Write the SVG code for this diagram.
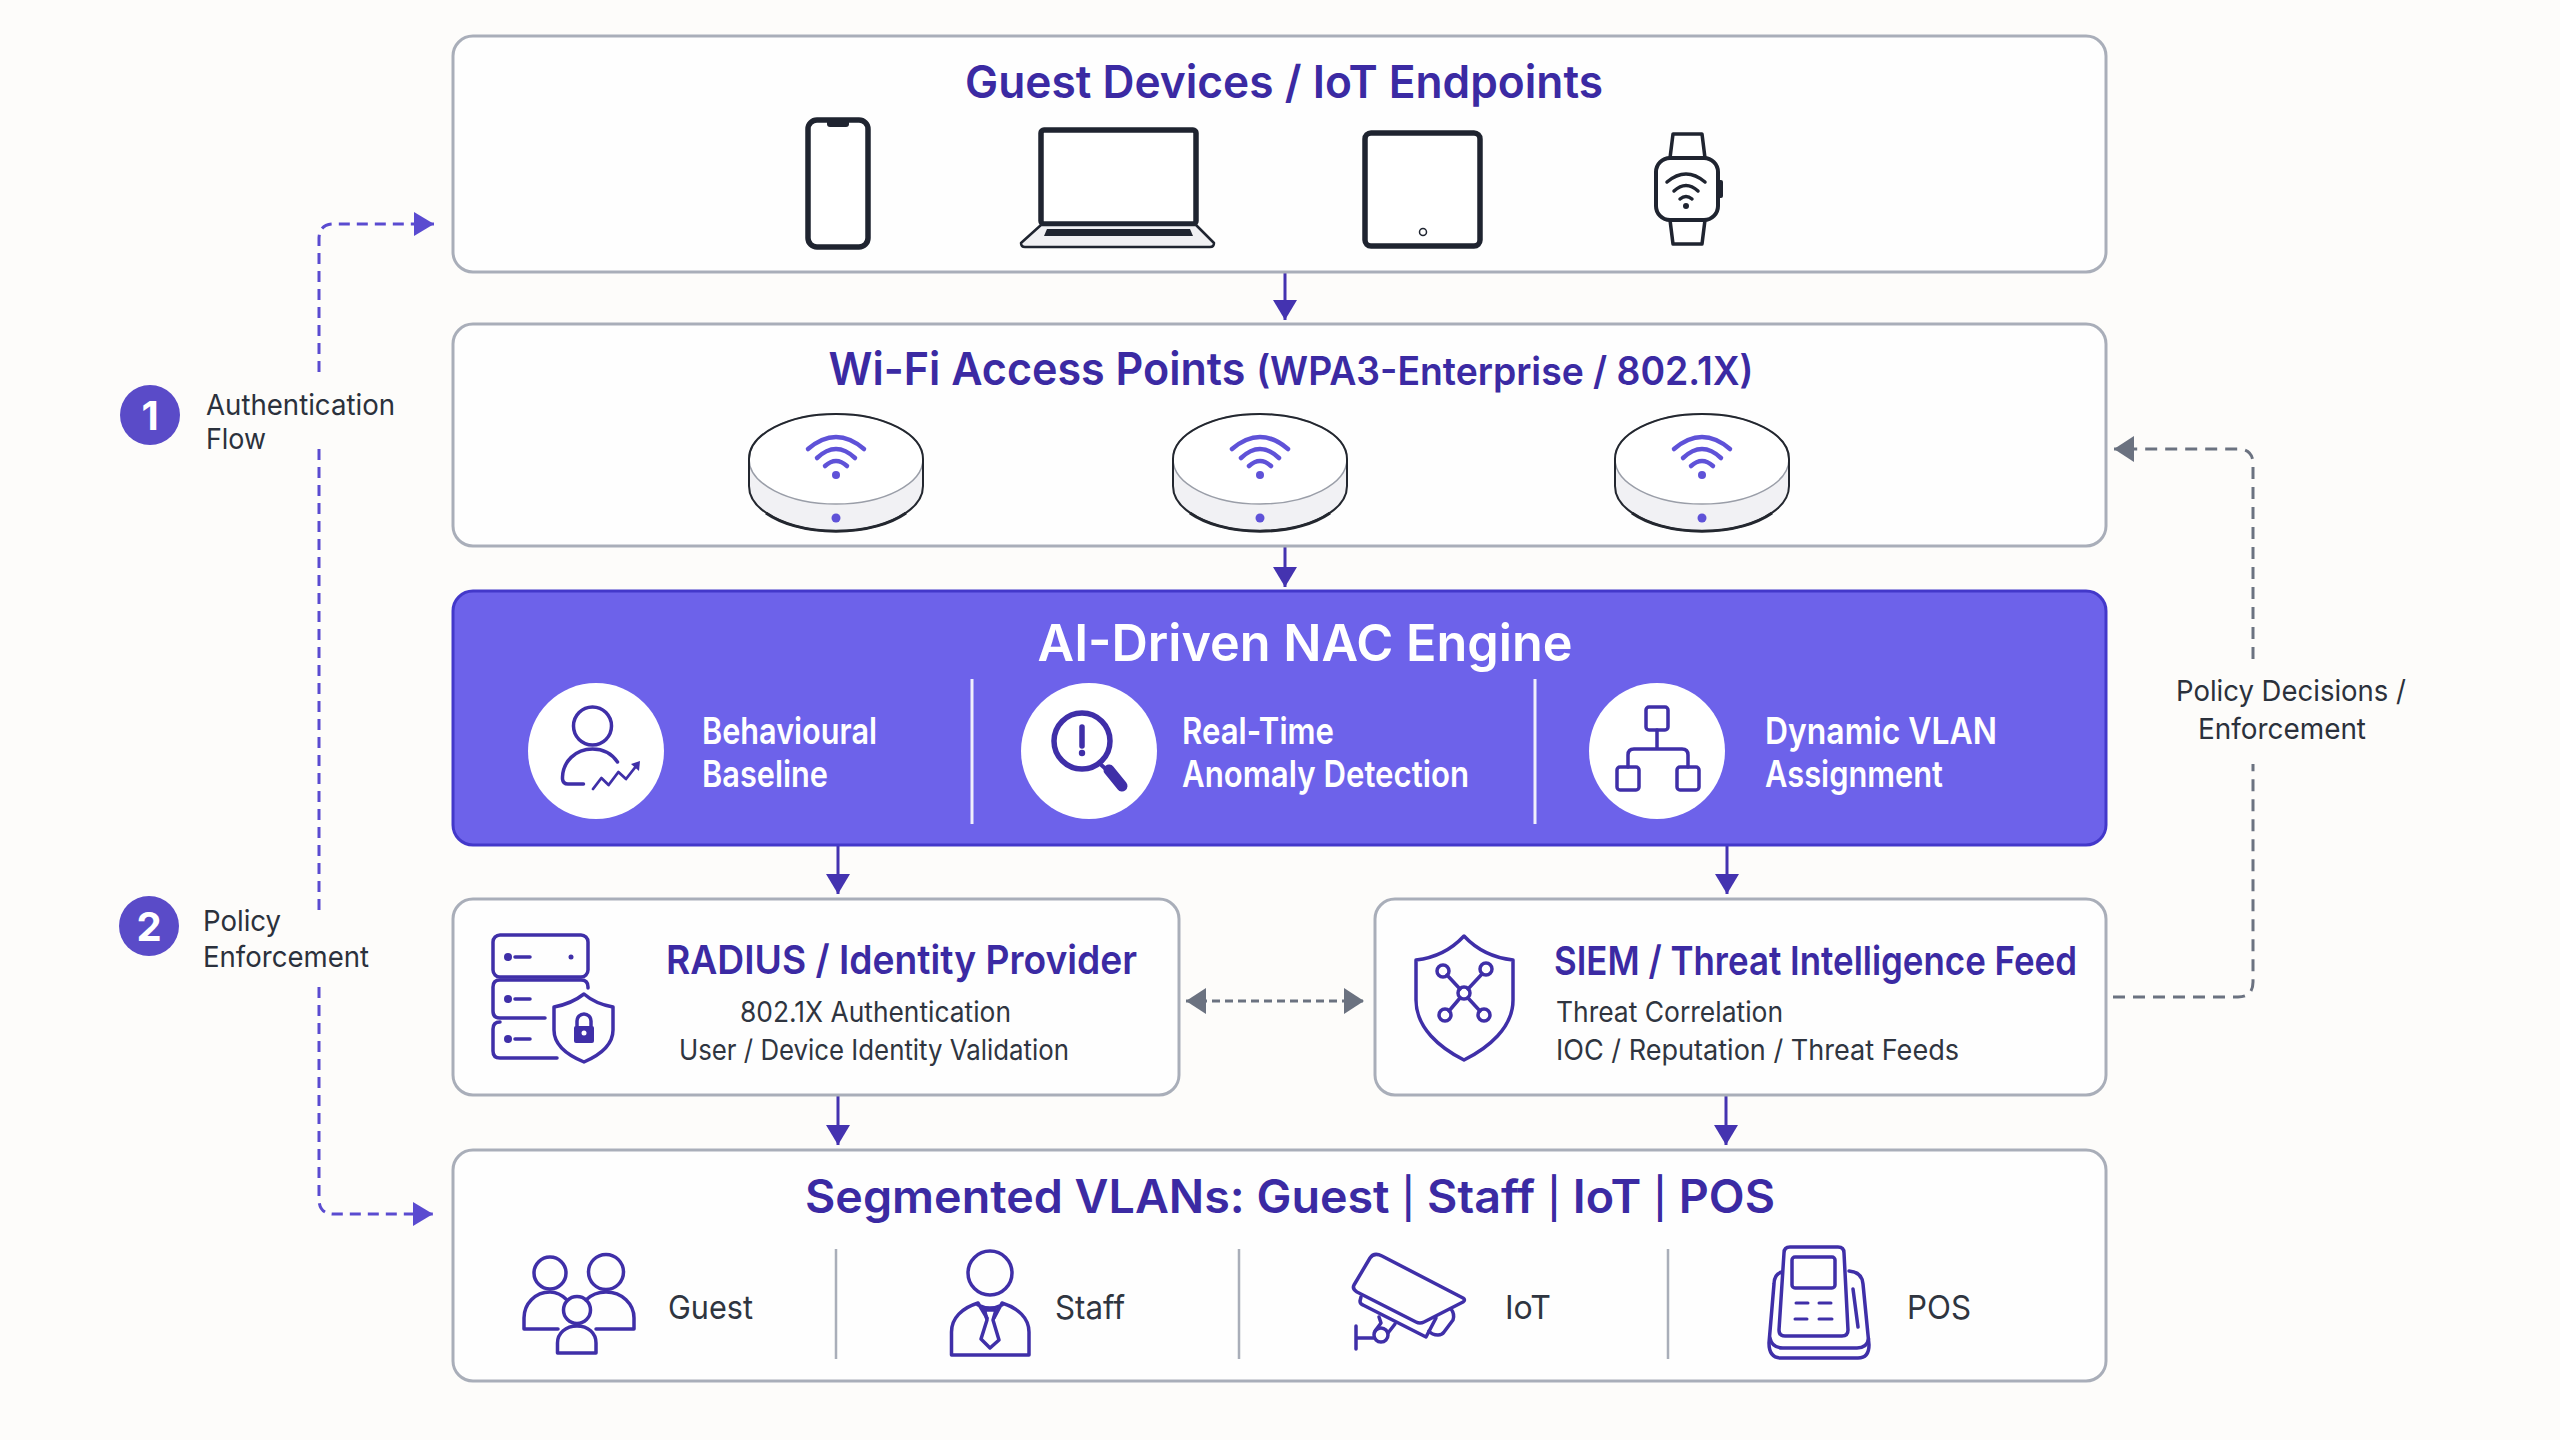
<svg xmlns="http://www.w3.org/2000/svg" width="2560" height="1440" viewBox="0 0 2560 1440">
<style>
text{font-family:Inter,"Noto Sans","Liberation Sans",sans-serif}
.box{fill:#fefefe;stroke:#a9aeb9;stroke-width:3}
.t{fill:#3b2aa3;font-weight:600;text-anchor:middle}
.h{fill:#3b2aa3;font-size:40px;font-weight:600}
.s{fill:#2f3540;font-size:28px}
.e{fill:#fff;font-size:37px;font-weight:600}
.l{fill:#2b313c;font-size:29px}
.v{fill:#2f3540;font-size:33px}
.ic{fill:none;stroke:#3f2fa8;stroke-width:3.5;stroke-linecap:round;stroke-linejoin:round}
.dk{fill:#fff;stroke:#1f2430;stroke-width:5.5;stroke-linejoin:round}
.wf{fill:none;stroke:#5f52d8;stroke-width:4.5;stroke-linecap:round}
.ar{fill:none;stroke:#4433b0;stroke-width:3}
.dp{fill:none;stroke:#5a4bd0;stroke-width:3;stroke-dasharray:11 7}
.dg{fill:none;stroke:#6b7280;stroke-width:3;stroke-dasharray:12 8}
</style>
<defs>
<marker id="ma" markerUnits="userSpaceOnUse" markerWidth="22" markerHeight="26" refX="20" refY="12" orient="auto"><path d="M0 0L20 12L0 24Z" fill="#4433b0"/></marker>
<marker id="mp" markerUnits="userSpaceOnUse" markerWidth="22" markerHeight="26" refX="20" refY="12" orient="auto"><path d="M0 0L20 12L0 24Z" fill="#5a4bd0"/></marker>
<marker id="mg" markerUnits="userSpaceOnUse" markerWidth="22" markerHeight="28" refX="20" refY="13" orient="auto"><path d="M0 0L20 13L0 26Z" fill="#6b7280"/></marker>
<marker id="mgs" markerUnits="userSpaceOnUse" markerWidth="22" markerHeight="28" refX="20" refY="13" orient="auto-start-reverse"><path d="M0 0L20 13L0 26Z" fill="#6b7280"/></marker>
<g id="ap">
<path d="M-87 2V27A87 45 0 0 0 87 27V2Z" fill="#f1f1f4"/>
<ellipse cx="0" cy="0" rx="87" ry="45" fill="#fff" stroke="#9a9ea8" stroke-width="1.5"/>
<path d="M-87 0V27A87 45 0 0 0 87 27V0" fill="none" stroke="#23272f" stroke-width="2"/>
<path d="M-70 54A87 45 0 0 0 70 54" fill="none" stroke="#23272f" stroke-width="3"/>
<path d="M-87 0A87 45 0 0 1 87 0" fill="none" stroke="#23272f" stroke-width="2"/>
<path class="wf" d="M-28-10Q0-34 28-10M-19-1Q0-19 19-1M-11 7Q0-3 11 7"/>
<circle cx="0" cy="16" r="4" fill="#5f52d8"/>
<circle cx="0" cy="59" r="4.5" fill="#5f52d8"/>
</g>
</defs>
<rect width="2560" height="1440" fill="#fdfcfa"/>

<g id="connectors">
<path class="ar" marker-end="url(#ma)" d="M1285 273V320"/>
<path class="ar" marker-end="url(#ma)" d="M1285 546V587"/>
<path class="ar" marker-end="url(#ma)" d="M838 845V894"/>
<path class="ar" marker-end="url(#ma)" d="M1727 845V894"/>
<path class="ar" marker-end="url(#ma)" d="M838 1095V1145"/>
<path class="ar" marker-end="url(#ma)" d="M1726 1095V1145"/>
<path class="dg" style="stroke-dasharray:8 5" marker-start="url(#mgs)" marker-end="url(#mg)" d="M1186 1001H1364"/>
<path class="dg" d="M2113 997H2238Q2253 997 2253 982V764"/>
<path class="dg" marker-end="url(#mg)" d="M2253 659V464Q2253 449 2238 449H2114"/>
<path class="dp" d="M319 372V239Q319 224 334 224H434" marker-end="url(#mp)"/>
<path class="dp" d="M319 449V913"/>
<path class="dp" d="M319 987V1199Q319 1214 334 1214H433" marker-end="url(#mp)"/>
</g>

<g id="legend-1">
<circle cx="150" cy="415" r="30" fill="#5a4bc8"/>
<text x="150" y="430" fill="#fff" font-size="40" font-weight="700" text-anchor="middle">1</text>
<text class="l" x="206" y="415" textLength="189" lengthAdjust="spacingAndGlyphs">Authentication</text>
<text class="l" x="206" y="449" textLength="60" lengthAdjust="spacingAndGlyphs">Flow</text>
</g>
<g id="legend-2">
<circle cx="149" cy="926" r="30" fill="#5a4bc8"/>
<text x="149" y="941" fill="#fff" font-size="40" font-weight="700" text-anchor="middle">2</text>
<text class="l" x="203" y="931" textLength="78" lengthAdjust="spacingAndGlyphs">Policy</text>
<text class="l" x="203" y="967" textLength="166" lengthAdjust="spacingAndGlyphs">Enforcement</text>
</g>
<g id="label-policy">
<text class="l" x="2176" y="701" textLength="230" lengthAdjust="spacingAndGlyphs">Policy Decisions /</text>
<text class="l" x="2198" y="739" textLength="168" lengthAdjust="spacingAndGlyphs">Enforcement</text>
</g>

<g id="devices">
<rect class="box" x="453" y="36" width="1653" height="236" rx="20"/>
<text class="t" x="1284" y="98" font-size="45" textLength="638" lengthAdjust="spacingAndGlyphs">Guest Devices / IoT Endpoints</text>
<rect class="dk" x="808" y="120" width="60" height="127" rx="9"/>
<path d="M827 120h22v4a3 3 0 0 1-3 3h-16a3 3 0 0 1-3-3z" fill="#1f2430"/>
<rect class="dk" x="1041" y="130" width="155" height="94" rx="3"/>
<path d="M1041 225H1196L1214 243Q1214 247 1210 247H1025Q1021 247 1021 243Z" fill="#f0f0f3" stroke="#1f2430" stroke-width="2.5" stroke-linejoin="round"/>
<path d="M1047 229H1190L1193 236H1044Z" fill="#1f2430"/>
<rect class="dk" x="1365" y="133" width="115" height="113" rx="6"/>
<circle cx="1423" cy="232" r="3.5" fill="#fff" stroke="#1f2430" stroke-width="1.5"/>
<path fill="#fff" stroke="#1f2430" stroke-width="3.5" stroke-linejoin="round" d="M1670 158L1673 134H1702L1705 158ZM1670 220L1673 244H1702L1705 220Z"/>
<rect x="1656" y="158" width="62" height="62" rx="14" fill="#fff" stroke="#1f2430" stroke-width="4"/>
<rect x="1718" y="180" width="5" height="18" rx="2" fill="#1f2430"/>
<path d="M1667 182Q1686 166 1705 182M1674 191Q1686 180 1698 191M1680 199Q1686 194 1692 199" fill="none" stroke="#1f2430" stroke-width="3.5" stroke-linecap="round"/>
<circle cx="1686" cy="206" r="3" fill="#1f2430"/>
</g>

<g id="access-points">
<rect class="box" x="453" y="324" width="1653" height="222" rx="20"/>
<text class="t" x="1291" y="385" font-size="45" textLength="925" lengthAdjust="spacingAndGlyphs">Wi-Fi Access Points <tspan font-size="39">(WPA3-Enterprise / 802.1X)</tspan></text>
<use href="#ap" x="836" y="459"/>
<use href="#ap" x="1260" y="459"/>
<use href="#ap" x="1702" y="459"/>
</g>

<g id="nac-engine">
<rect x="453" y="591" width="1653" height="254" rx="20" fill="#6d62ea" stroke="#4338ca" stroke-width="3"/>
<text x="1305" y="661" fill="#fff" font-size="51" font-weight="600" text-anchor="middle" textLength="535" lengthAdjust="spacingAndGlyphs">AI-Driven NAC Engine</text>
<path d="M972 679V824M1535 679V824" stroke="#fff" stroke-width="3" opacity=".9"/>
<circle cx="596" cy="751" r="68" fill="#fff"/>
<circle cx="1089" cy="751" r="68" fill="#fff"/>
<circle cx="1657" cy="751" r="68" fill="#fff"/>
<g class="ic">
<circle cx="592.500" cy="726" r="19"/>
<path d="M617.500 762C612 754 603 749 592.500 749C575 749 563 762 562.500 777V779Q563 784 568 784H583.500"/>
<path d="M593 789L601.400 778L608.600 785L618.400 772L626 779L637 765" stroke-width="2.800"/>
</g>
<path d="M631 764L640 761L639 771Z" fill="#3f2fa8"/>
<circle cx="1082" cy="741" r="28" fill="none" stroke="#3f2fa8" stroke-width="5.500"/>
<path d="M1082 727V746" stroke="#3f2fa8" stroke-width="5.500" stroke-linecap="round"/>
<circle cx="1082" cy="753" r="3.200" fill="#3f2fa8"/>
<path d="M1099 763L1107 770" stroke="#3f2fa8" stroke-width="4" fill="none"/>
<path d="M1109 770L1122 786" stroke="#3f2fa8" stroke-width="11" stroke-linecap="round" fill="none"/>
<g class="ic">
<rect x="1646" y="707" width="22" height="23" rx="3"/>
<rect x="1617" y="767" width="22" height="23" rx="3"/>
<rect x="1677" y="767" width="22" height="23" rx="3"/>
<path d="M1657 730V749M1628 767V755Q1628 749 1634 749H1682Q1688 749 1688 755V767"/>
</g>
<text class="e" x="702" y="744" textLength="175" lengthAdjust="spacingAndGlyphs">Behavioural</text>
<text class="e" x="702" y="787" textLength="126" lengthAdjust="spacingAndGlyphs">Baseline</text>
<text class="e" x="1182" y="744" textLength="152" lengthAdjust="spacingAndGlyphs">Real-Time</text>
<text class="e" x="1182" y="787" textLength="287" lengthAdjust="spacingAndGlyphs">Anomaly Detection</text>
<text class="e" x="1765" y="744" textLength="232" lengthAdjust="spacingAndGlyphs">Dynamic VLAN</text>
<text class="e" x="1765" y="787" textLength="178" lengthAdjust="spacingAndGlyphs">Assignment</text>
</g>

<g id="radius">
<rect class="box" x="453" y="899" width="726" height="196" rx="20"/>
<g class="ic">
<rect x="493" y="935" width="95" height="42" rx="7"/>
<path d="M588 988V987Q588 980 581 980H500Q493 980 493 987V1011Q493 1018 500 1018H545"/>
<path d="M500 1022Q493 1022 493 1029V1051Q493 1058 500 1058H557"/>
<path d="M515 957H530M515 999H530M515 1039H530"/>
<path d="M584 994C575 1001 565 1005 554 1007V1030C554 1045 567 1055 584 1062C600 1055 613 1045 613 1030V1007C602 1005 592 1001 584 994Z"/>
<path d="M577 1026V1021a7 7 0 0 1 14 0V1026" stroke-width="3.500"/>
</g>
<path d="M576 1026H592a2 2 0 0 1 2 2V1041a2 2 0 0 1-2 2H576a2 2 0 0 1-2-2V1028a2 2 0 0 1 2-2Z" fill="#3f2fa8"/>
<circle cx="584" cy="1033" r="2.500" fill="#fff"/>
<circle cx="508" cy="957" r="4" fill="#3f2fa8"/><circle cx="508" cy="999" r="4" fill="#3f2fa8"/><circle cx="508" cy="1039" r="4" fill="#3f2fa8"/><circle cx="571" cy="957" r="2.500" fill="#3f2fa8"/>
<text class="h" x="666" y="974" textLength="471" lengthAdjust="spacingAndGlyphs">RADIUS / Identity Provider</text>
<text class="s" x="740" y="1022" textLength="271" lengthAdjust="spacingAndGlyphs">802.1X Authentication</text>
<text class="s" x="679" y="1060" textLength="390" lengthAdjust="spacingAndGlyphs">User / Device Identity Validation</text>
</g>

<g id="siem">
<rect class="box" x="1375" y="899" width="731" height="196" rx="20"/>
<g class="ic">
<path d="M1464 936C1451 950 1434 958 1416 960V1000C1416 1028 1440 1048 1464 1060C1488 1048 1513 1028 1513 1000V960C1495 958 1477 950 1464 936Z"/>
<circle cx="1464" cy="993" r="6"/>
<circle cx="1443" cy="971" r="6"/><circle cx="1486" cy="969" r="6"/><circle cx="1445" cy="1015" r="6"/><circle cx="1484" cy="1015" r="6"/>
<path d="M1447 975L1460 989M1482 974L1468 989M1449 1011L1460 998M1480 1011L1468 998"/>
</g>
<text class="h" x="1554" y="975" textLength="523" lengthAdjust="spacingAndGlyphs">SIEM / Threat Intelligence Feed</text>
<text class="s" x="1556" y="1022" textLength="227" lengthAdjust="spacingAndGlyphs">Threat Correlation</text>
<text class="s" x="1556" y="1060" textLength="403" lengthAdjust="spacingAndGlyphs">IOC / Reputation / Threat Feeds</text>
</g>

<g id="vlans">
<rect class="box" x="453" y="1150" width="1653" height="231" rx="20"/>
<text class="t" x="1290" y="1213" font-size="46" textLength="970" lengthAdjust="spacingAndGlyphs">Segmented VLANs: Guest <tspan font-weight="500" font-size="40">|</tspan> Staff <tspan font-weight="500" font-size="40">|</tspan> IoT <tspan font-weight="500" font-size="40">|</tspan> POS</text>
<path d="M836 1249V1359M1239 1249V1359M1668 1249V1359" stroke="#a9aeb9" stroke-width="2.500"/>
<g class="ic">
<circle cx="550" cy="1273" r="16"/><circle cx="606" cy="1272" r="17.500"/><circle cx="577" cy="1310" r="13.500"/>
<path d="M567 1300C562 1295 556 1292 550 1292C535 1292 524 1304 524 1318V1329H558"/>
<path d="M586 1300C591 1295 598 1292 606 1292C622 1292 634 1304 634 1318V1329H596"/>
<path d="M557.500 1353V1343C557.500 1333 566 1326 577 1326C588 1326 596 1333 596 1343V1353Z"/>
</g>
<text class="v" x="668" y="1319" textLength="85" lengthAdjust="spacingAndGlyphs">Guest</text>
<g class="ic">
<circle cx="990" cy="1273" r="22"/>
<path d="M978 1303C962 1308 951.500 1318 951.500 1332V1355H1029V1332C1029 1318 1018 1308 1002 1303L994 1318M978 1303L987 1318M978 1305Q990 1311 1002 1305"/>
<path d="M984.500 1310H996L993 1320L999 1340L990 1348L981 1339L987 1320Z"/>
</g>
<text class="v" x="1055" y="1319" textLength="70" lengthAdjust="spacingAndGlyphs">Staff</text>
<g class="ic">
<path d="M1382 1256L1463 1298Q1466 1300 1463 1302L1424 1322Q1420 1324 1416 1322L1357 1292Q1352 1289 1354 1285L1370 1258Q1374 1252 1382 1256Z"/>
<path d="M1361 1297L1360 1301Q1360 1304 1363 1305L1426 1337L1436 1318"/>
<path d="M1429 1331Q1432 1335 1438 1335Q1442 1335 1444 1332L1453 1320Q1455 1314 1451 1309"/>
<path d="M1379 1317L1381 1323L1375 1331M1395 1324L1388 1333"/>
<circle cx="1381" cy="1335" r="7"/>
<path d="M1356 1326V1349M1356 1338H1374"/>
</g>
<text class="v" x="1505" y="1319" textLength="46" lengthAdjust="spacingAndGlyphs">IoT</text>
<g class="ic">
<path d="M1790 1247H1838Q1844 1247 1844 1253L1848 1330Q1848 1336 1842 1336H1785Q1779 1336 1779 1330L1784 1253Q1784 1247 1790 1247Z"/>
<rect x="1792" y="1257" width="43" height="31" rx="3"/>
<path d="M1796 1303H1808M1819 1303H1831M1795 1319H1807M1819 1319H1832" stroke-width="3"/>
<path d="M1782 1272Q1774 1274 1774 1284L1769 1343Q1769 1358 1781 1358H1858Q1869 1358 1869 1345L1863 1284Q1862 1272 1849 1271"/>
<path d="M1770 1338Q1772 1348 1783 1348H1857Q1867 1348 1868.500 1339M1853 1289L1858 1327"/>
</g>
<text class="v" x="1907" y="1319" textLength="64" lengthAdjust="spacingAndGlyphs">POS</text>
</g>
</svg>
